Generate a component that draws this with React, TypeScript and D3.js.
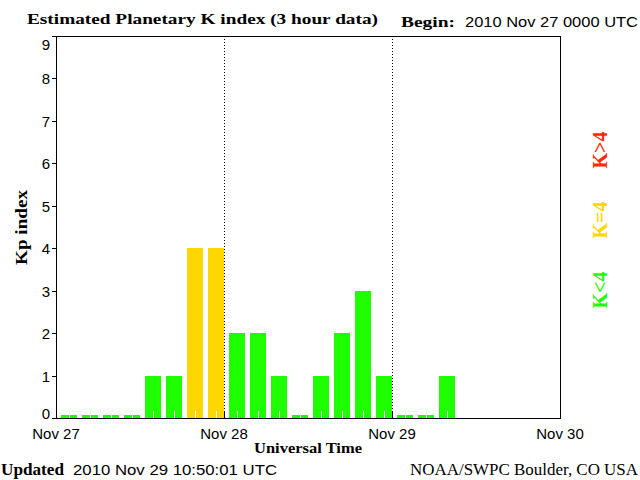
import React from "react";
import * as d3 from "d3";

const kpValues: number[] = [0, 0, 0, 0, 1, 1, 4, 4, 2, 2, 1, 0, 1, 2, 3, 1, 0, 0, 1];
const dayLabels: string[] = ["Nov 27", "Nov 28", "Nov 29", "Nov 30"];
const yTicks: number[] = [0, 1, 2, 3, 4, 5, 6, 7, 8, 9];
const legendItems: { label: string; color: string }[] = [
  { label: "K>4", color: "#ff2a00" },
  { label: "K=4", color: "#ffd700" },
  { label: "K<4", color: "#1eff00" },
];

const W = 640;
const H = 480;
const left = 56;
const right = 560;
const top = 35.5;
const bottom = 418;

const serif = "'Liberation Serif', 'DejaVu Serif', serif";
const sans = "'Liberation Sans', Arial, sans-serif";

function colorFor(v: number) {
  if (v > 4) return "#ff2a00";
  if (v === 4) return "#ffd700";
  return "#1eff00";
}

export default function App() {
  const x = d3.scaleLinear().domain([0, 72]).range([left, right]);
  const y = d3.scaleLinear().domain([0, 9]).range([bottom, top]);
  const slot = x(3) - x(0);
  const barW = slot * 0.76;
  const barOff = slot * 0.215;

  const labelCenter = (t: number) => Math.min(Math.max(y(t), top + 8.5), bottom - 5);

  return (
    <svg width={W} height={H} style={{ position: "absolute", left: 0, top: 0, background: "#fff" }}>
      <rect x={0} y={0} width={W} height={H} fill="#fff" />
      {/* bars */}
      {kpValues.map((v, i) => {
        const bx = Math.round(x(i * 3) + barOff);
        const by = v === 0 ? bottom - 3 : Math.round(y(v));
        const cx = Math.round(bx + barW / 2) + 0.5;
        return (
          <g key={i} shapeRendering="crispEdges">
            <rect x={bx} y={by} width={Math.round(barW)} height={bottom - by} fill={colorFor(v)} />
            <line x1={cx} x2={cx} y1={bottom - 7} y2={bottom} stroke="#fff" strokeWidth={1} />
          </g>
        );
      })}
      {/* dotted day separators */}
      {[24, 48].map((h) => (
        <g key={h} shapeRendering="crispEdges">
          <line x1={x(h) + 0.5} x2={x(h) + 0.5} y1={top} y2={bottom} stroke="#000" strokeWidth={1} strokeDasharray="1,2" />
          <line x1={x(h) + 0.5} x2={x(h) + 0.5} y1={bottom - 7} y2={bottom} stroke="#000" strokeWidth={1} />
        </g>
      ))}
      {/* frame */}
      <rect
        x={left + 0.5}
        y={Math.round(top) + 0.5}
        width={right - left}
        height={bottom - Math.round(top)}
        fill="none"
        stroke="#000"
        strokeWidth={1}
        shapeRendering="crispEdges"
      />
      {/* y ticks */}
      {yTicks.map((t) => (
        <g key={t}>
          <line
            x1={left - 4}
            x2={left}
            y1={Math.round(y(t)) + 0.5}
            y2={Math.round(y(t)) + 0.5}
            stroke="#000"
            strokeWidth={1}
            shapeRendering="crispEdges"
          />
          <text x={50} y={labelCenter(t) + 6} textAnchor="end" fontFamily={sans} fontSize={15} fill="#000">
            {t}
          </text>
        </g>
      ))}
      {/* x labels */}
      {dayLabels.map((d, i) => (
        <text key={d} x={x(i * 24)} y={439} textAnchor="middle" fontFamily={sans} fontSize={15} fill="#000">
          {d}
        </text>
      ))}
      <text
        x={308}
        y={453}
        textAnchor="middle"
        fontFamily={serif}
        fontWeight="bold"
        fontSize={15}
        fill="#000"
        textLength={108}
        lengthAdjust="spacingAndGlyphs"
      >
        Universal Time
      </text>
      <text
        transform={`translate(27,227.5) rotate(-90)`}
        textAnchor="middle"
        fontFamily={serif}
        fontWeight="bold"
        fontSize={17}
        fill="#000"
        textLength={75}
        lengthAdjust="spacingAndGlyphs"
      >
        Kp index
      </text>
      {/* title */}
      <text x={27} y={24} fontFamily={serif} fontWeight="bold" fontSize={15} fill="#000" textLength={351} lengthAdjust="spacingAndGlyphs">
        Estimated Planetary K index (3 hour data)
      </text>
      <text x={401} y={27} fontFamily={serif} fontWeight="bold" fontSize={15} fill="#000" textLength={54} lengthAdjust="spacingAndGlyphs">
        Begin:
      </text>
      <text x={465} y={27} fontFamily={sans} fontSize={15} fill="#000" textLength={173} lengthAdjust="spacingAndGlyphs">
        2010 Nov 27 0000 UTC
      </text>
      {/* footer */}
      <text x={1} y={475} fontFamily={serif} fontWeight="bold" fontSize={16} fill="#000" textLength={63} lengthAdjust="spacingAndGlyphs">
        Updated
      </text>
      <text x={73} y={475} fontFamily={sans} fontSize={15} fill="#000" textLength={204} lengthAdjust="spacingAndGlyphs">
        2010 Nov 29 10:50:01 UTC
      </text>
      <text x={410} y={475} fontFamily={serif} fontSize={16} fill="#000" textLength={228} lengthAdjust="spacingAndGlyphs">
        NOAA/SWPC Boulder, CO USA
      </text>
      {/* legend */}
      {legendItems.map((l, i) => (
        <text
          key={l.label}
          transform={`translate(607,${150 + i * 70}) rotate(-90)`}
          textAnchor="middle"
          fontFamily={serif}
          fontWeight="bold"
          fontSize={20}
          fill={l.color}
        >
          {l.label}
        </text>
      ))}
    </svg>
  );
}
